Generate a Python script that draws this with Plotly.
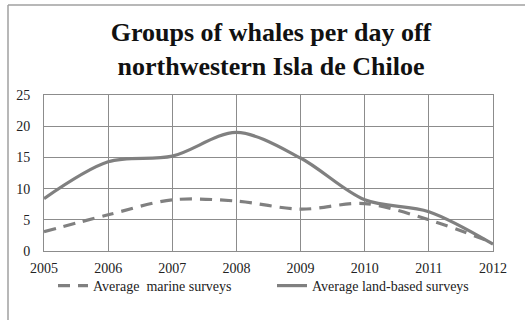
import plotly.graph_objects as go

# Survey years and average number of whale groups sighted per day
years = [2005, 2006, 2007, 2008, 2009, 2010, 2011, 2012]
marine = [3.1, 5.8, 8.2, 8.0, 6.7, 7.6, 5.0, 1.3]
land_based = [8.4, 14.3, 15.2, 19.0, 14.9, 8.2, 6.3, 1.1]

series_names = ["Average&nbsp; marine surveys", "Average land-based surveys"]
y_ticks = [0, 5, 10, 15, 20, 25]

W, H = 525, 320
L, R, T, B = 44, 32, 95, 69
pw, ph = W - L - R, H - T - B

serif = "Liberation Serif, Times New Roman, serif"
line_grey = "#808080"

fig = go.Figure()
fig.add_trace(go.Scatter(
    x=years, y=marine, name=series_names[0], mode="lines",
    line=dict(color=line_grey, width=3.2, dash="12px,8px", shape="spline", smoothing=0.9),
))
fig.add_trace(go.Scatter(
    x=years, y=land_based, name=series_names[1], mode="lines",
    line=dict(color=line_grey, width=3.2, shape="spline", smoothing=0.9),
))

# outer frame (top and left edges)
def px_x(p):
    return (p - L) / pw

def px_y(p):
    return (H - B - p) / ph

frame = dict(color="#a0a0a0", width=1.5)
fig.add_shape(type="line", xref="paper", yref="paper",
              x0=px_x(8), x1=px_x(530), y0=px_y(5), y1=px_y(5), line=frame)
fig.add_shape(type="line", xref="paper", yref="paper",
              x0=px_x(8), x1=px_x(8), y0=px_y(5), y1=px_y(325), line=frame)

fig.update_layout(
    width=W, height=H,
    margin=dict(l=L, r=R, t=T, b=B),
    paper_bgcolor="white", plot_bgcolor="white",
    font=dict(family=serif, color="#222222", size=14),
    title=dict(
        text="Groups of whales per day off<br>northwestern Isla de Chiloe",
        x=271 / W, xanchor="center", xref="container",
        y=1 - 41 / H, yanchor="top", yref="container",
        font=dict(family=serif, size=26, color="#111111", weight="bold"),
        automargin=False,
    ),
    xaxis=dict(
        range=[2005, 2012], tickvals=years, ticktext=[str(y) for y in years],
        showgrid=True, gridcolor="#8c8c8c", gridwidth=1,
        showline=True, linecolor="#8c8c8c", mirror=True,
        ticks="", ticklabelstandoff=4, zeroline=False,
        tickfont=dict(size=14),
    ),
    yaxis=dict(
        range=[0, 25], tickvals=y_ticks,
        showgrid=True, gridcolor="#8c8c8c", gridwidth=1,
        showline=True, linecolor="#8c8c8c", mirror=True,
        ticks="", ticklabelstandoff=10, zeroline=False,
        tickfont=dict(size=14),
    ),
    legend=dict(
        orientation="h", x=px_x(53), xanchor="left", y=px_y(270), yanchor="top",
        font=dict(size=14), bgcolor="rgba(0,0,0,0)",
        entrywidth=174, entrywidthmode="pixels", itemwidth=30,
    ),
    showlegend=True,
)

fig.write_html("out.html")
